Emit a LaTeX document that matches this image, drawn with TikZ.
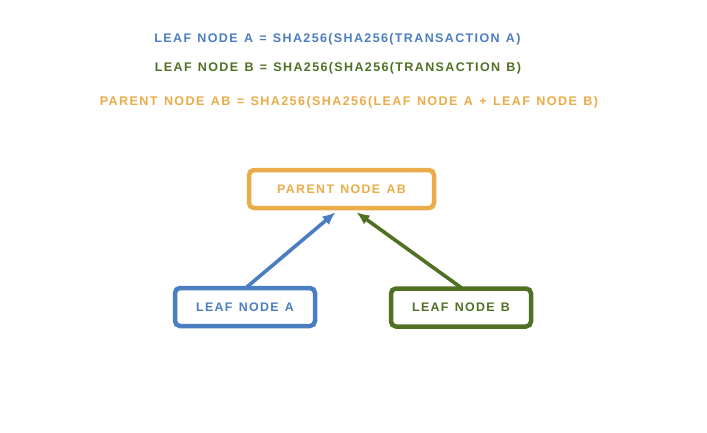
\documentclass[tikz,border=0pt]{standalone}
\usepackage{fontspec}
\setmainfont{Liberation Sans}
\newfontfamily\lbl[LetterSpace=11,WordSpace=1.3]{Liberation Sans}
\usetikzlibrary{arrows.meta}
\definecolor{cblue}{RGB}{74,126,193}
\definecolor{cgreen}{RGB}{80,112,36}
\definecolor{corange}{RGB}{233,172,72}
\tikzset{
  hdr/.style={font=\lbl\bfseries\fontsize{12.5}{14}\selectfont, inner sep=0pt, anchor=center},
  hdrwide/.style={font=\lbl\bfseries\fontsize{12.6}{14}\selectfont, inner sep=0pt, anchor=center},
  box/.style={draw, line width=4.5pt, rounded corners=5pt, font=\lbl\bfseries\fontsize{12.4}{14}\selectfont, inner sep=0pt},
  link/.style={line width=3.6pt, -{Latex[length=13pt,width=11pt]}}
}
\begin{document}
\begin{tikzpicture}[x=1pt,y=-1pt]
\useasboundingbox (0,0) rectangle (707,432);
\node[hdr, text=cblue] (h1) at (337.5,39.5) {LEAF NODE A = SHA256(SHA256(TRANSACTION A)};
\node[hdr, text=cgreen] (h2) at (338,68) {LEAF NODE B = SHA256(SHA256(TRANSACTION B)};
\node[hdrwide, text=corange] (h3) at (349,102.5) {PARENT NODE AB = SHA256(SHA256(LEAF NODE A + LEAF NODE B)};
\node[box, draw=corange, text=corange, minimum width=185pt, minimum height=38pt] (p) at (341.5,189) {PARENT NODE AB};
\node[box, draw=cblue, text=cblue, minimum width=140pt, minimum height=38pt] (a) at (245,307) {LEAF NODE A};
\node[box, draw=cgreen, text=cgreen, minimum width=140pt, minimum height=38pt] (b) at (461,307.5) {LEAF NODE B};
\draw[link, cblue] ([xshift=1pt,yshift=-2pt]a.north) -- ([xshift=-6pt,yshift=-2pt]p.south);
\draw[link, cgreen] ([xshift=1pt,yshift=-2pt]b.north) -- ([xshift=15pt,yshift=-2pt]p.south);
\end{tikzpicture}
\end{document}
